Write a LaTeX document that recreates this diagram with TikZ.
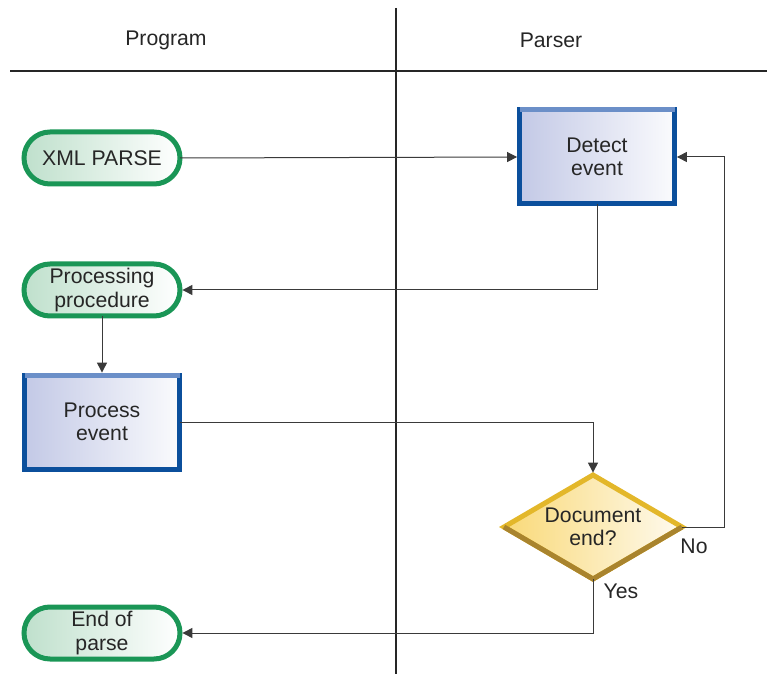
\documentclass[tikz,border=0pt]{standalone}
\usepackage{fontspec}
\setmainfont{Liberation Sans}
\usepackage{tikz}
\usetikzlibrary{arrows.meta,shapes.geometric}
\definecolor{TermGreen}{HTML}{1A9656}
\definecolor{TermFill}{HTML}{BFE0CC}
\definecolor{BoxBlue}{HTML}{0B4F9C}
\definecolor{BoxTop}{HTML}{6B8FC8}
\definecolor{BoxFill}{HTML}{C3C9E6}
\definecolor{DecGold}{HTML}{E3B72A}
\definecolor{DecDark}{HTML}{A9842E}
\definecolor{DecFill}{HTML}{F9D978}
\definecolor{LineGray}{HTML}{3A3A3A}
\begin{document}
\begin{tikzpicture}[
    x=0.5pt,y=-0.5pt,
    font=\fontsize{10.6}{11.7}\selectfont,text=black!85,
    term/.style={draw=TermGreen,line width=2.5pt,outer sep=0pt,left color=TermFill,right color=white,rounded corners=13pt,minimum width=78pt,minimum height=26pt,inner sep=1pt,align=center},
    proc/.style={draw=BoxBlue,line width=2.5pt,outer sep=0pt,left color=BoxFill,right color=white!92!BoxFill,minimum width=77.5pt,minimum height=47pt,align=center},
    dec/.style={diamond,aspect=1.7,draw=DecGold,line width=2.5pt,outer sep=0pt,left color=DecFill,right color=white!88!DecFill,minimum width=89pt,minimum height=52pt,inner sep=0pt,align=center},
    flow/.style={draw=LineGray,line width=0.5pt,shorten >=1.2pt,-{Triangle[length=5pt,width=5pt]}},
    lane/.style={draw=black!85,line width=1pt}
  ]
  \useasboundingbox (0,0) rectangle (767,674);
  % swim lanes
  \draw[lane] (396,8) -- (396,674);
  \draw[lane] (10,71) -- (767,71);
  \node (prog) at (166,40) {Program};
  \node (pars) at (551,40) {Parser};
  % program side
  \node[term] (xml) at (102,158) {XML PARSE};
  \node[term] (pp) at (102,290) {Processing\\procedure};
  \node[proc] (pe) at (102,422) {Process\\event};
  \node[term] (eop) at (102,633) {End of\\parse};
  % parser side
  \node[proc] (det) at (597,157) {Detect\\event};
  \node[dec] (doc) at (593,527) {Document\\end?};
  % bevel edges
  \draw[BoxTop,line width=2.5pt] (det.north west) -- (det.north east);
  \draw[BoxTop,line width=2.5pt] (pe.north west) -- (pe.north east);
  \draw[DecDark,line width=2.5pt,line join=miter] (doc.west) -- (doc.south) -- (doc.east);
  % flow
  \draw[flow] (xml.east) -- (det.west);
  \draw[flow] (det.south) |- (pp.east);
  \draw[flow] (pp.south) -- (pe.north);
  \draw[flow] (pe.east) -| (doc.north);
  \draw[flow] (doc.east) -- ++(42,0) |- (det.east);
  \draw[flow] (doc.south) |- (eop.east);
  \node (no) at (694,546) {No};
  \node (yes) at (621,591) {Yes};
\end{tikzpicture}
\end{document}
